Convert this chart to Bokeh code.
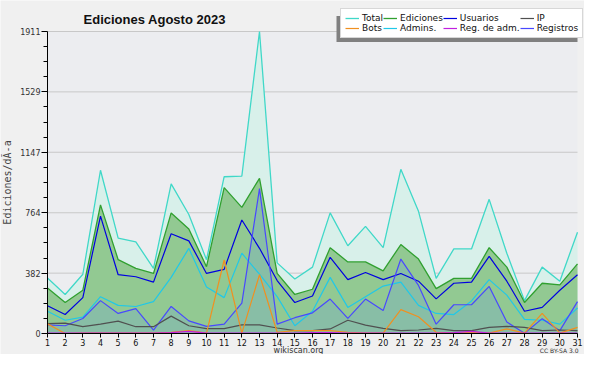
from bokeh.plotting import figure
from bokeh.models import (ColumnDataSource, FixedTicker, Legend, LegendItem, Label,
                          BoxAnnotation, Range1d)
from bokeh.embed import file_html
from bokeh.resources import INLINE

days = list(range(1, 32))
total = [351, 247, 375, 1033, 604, 580, 412, 947, 753, 467, 992, 996, 1911, 447, 345, 420,
         763, 555, 678, 543, 1039, 773, 349, 535, 535, 849, 508, 208, 420, 331, 641]
ediciones = [288, 196, 274, 814, 467, 412, 380, 763, 661, 423, 923, 798, 982, 380, 247, 280,
             543, 453, 453, 396, 563, 471, 284, 349, 349, 543, 420, 196, 318, 308, 441]
usuarios = [176, 120, 227, 743, 372, 359, 325, 631, 586, 380, 406, 718, 539, 335, 196, 237,
            482, 341, 386, 341, 380, 331, 219, 318, 325, 488, 331, 141, 165, 274, 372]
registros = [55, 49, 95, 208, 127, 157, 22, 171, 80, 45, 59, 192, 917, 59, 100, 131,
             218, 96, 218, 145, 471, 304, 59, 182, 182, 298, 73, 2, 94, 18, 202]
ip = [62, 66, 43, 59, 78, 43, 43, 110, 49, 31, 31, 55, 55, 35, 18, 18,
      29, 84, 53, 33, 18, 22, 33, 18, 18, 39, 45, 39, 18, 22, 18]
bots = [61, 0, 2, 2, 2, 2, 2, 8, 18, 2, 465, 2, 372, 8, 18, 18,
        18, 8, 2, 2, 151, 106, 8, 2, 8, 2, 29, 2, 127, 2, 39]
admins = [141, 84, 104, 233, 178, 171, 202, 355, 539, 294, 227, 508, 375, 233, 49, 141,
          355, 165, 233, 300, 325, 178, 127, 120, 206, 341, 243, 90, 84, 59, 161]
reg_adm = [3, 2, 2, 2, 2, 2, 2, 5, 14, 2, 2, 2, 2, 2, 2, 6,
           6, 2, 2, 2, 2, 2, 2, 6, 14, 2, 2, 2, 2, 2, 2]

y_ticks = [0, 382, 764, 1147, 1529, 1911]
legend_labels = ["Total", "Ediciones", "Usuarios", "IP",
                 "Bots", "Admins.", "Reg. de adm.", "Registros"]

# ---- layout (pixels) ----
W, H = 584, 354
px_left, px_right = 47, 577      # screen x of first / last day
px_top, px_bottom = 31, 333      # screen y (from top) of y max / 0
xs = (px_right - px_left) / (days[-1] - days[0])
ys = (px_bottom - px_top) / (y_ticks[-1] - y_ticks[0])
x_range = Range1d(days[0] - px_left / xs, days[-1] + (W - px_right) / xs)
y_range = Range1d(y_ticks[0] - (H - px_bottom) / ys, y_ticks[-1] + px_top / ys)

src = ColumnDataSource(dict(day=days, total=total, ediciones=ediciones, usuarios=usuarios,
                            registros=registros, ip=ip, bots=bots, admins=admins,
                            reg_adm=reg_adm))

p = figure(width=W, height=H, output_backend="svg", toolbar_location=None,
           x_range=x_range, y_range=y_range, min_border=0)
p.background_fill_color = "#f0f0f0"
p.border_fill_color = "#f0f0f0"
p.outline_line_color = None
p.xgrid.grid_line_color = None
p.ygrid.grid_line_color = None

# plot area background
p.add_layout(BoxAnnotation(left=days[0], right=days[-1], bottom=y_ticks[0], top=y_ticks[-1],
                           fill_color="#ecedf0", fill_alpha=1, line_color=None,
                           level="underlay"))
# horizontal grid lines
p.segment(x0=[days[0]] * (len(y_ticks) - 1), x1=[days[-1]] * (len(y_ticks) - 1),
          y0=y_ticks[1:], y1=y_ticks[1:], line_color="#c8c8c8", line_width=1)

# areas
p.varea(x="day", y1=0, y2="total", source=src, fill_color="#d8f0ea")
p.varea(x="day", y1=0, y2="ediciones", source=src, fill_color="#92c992")
p.varea(x="day", y1=0, y2="registros", source=src, fill_color="#88bea6")

# lines
r_total = p.line("day", "total", source=src, line_color="#40d8c8", line_width=1.3)
r_edic = p.line("day", "ediciones", source=src, line_color="#30a030", line_width=1.3)
r_usu = p.line("day", "usuarios", source=src, line_color="#0000e0", line_width=1.2)
r_adm = p.line("day", "admins", source=src, line_color="#20c8e8", line_width=1.2)
r_reg = p.line("day", "registros", source=src, line_color="#4848ff", line_width=1.2)
r_ip = p.line("day", "ip", source=src, line_color="#505050", line_width=1.2)
r_bots = p.line("day", "bots", source=src, line_color="#f09020", line_width=1.2)
r_radm = p.line("day", "reg_adm", source=src, line_color="#c020e0", line_width=1.2)

# axes
minor = []
for a, b in zip(y_ticks[:-1], y_ticks[1:]):
    minor += [a + (b - a) * k / 4 for k in (1, 2, 3)]
p.yaxis.ticker = FixedTicker(ticks=y_ticks, minor_ticks=minor)
p.xaxis.ticker = FixedTicker(ticks=days)
p.xaxis.fixed_location = y_ticks[0]
p.yaxis.fixed_location = days[0]
p.xaxis.bounds = (days[0], days[-1])
p.yaxis.bounds = (y_ticks[0], y_ticks[-1])

for ax in (p.xaxis[0], p.yaxis[0]):
    ax.axis_line_color = "black"
    ax.major_tick_line_color = "black"
    ax.minor_tick_line_color = "black"
    ax.major_tick_in = 0
    ax.minor_tick_in = 0
    ax.major_label_text_font = "DejaVu Sans"
    ax.major_label_text_font_size = "8px"
    ax.major_label_standoff = 1
p.xaxis.major_tick_out = 4
p.xaxis.minor_tick_out = 0
p.yaxis.major_tick_out = 6
p.yaxis.minor_tick_out = 4
p.xaxis.major_label_text_color = "#111111"
p.yaxis.major_label_text_color = "#333333"
p.yaxis.axis_label = "Ediciones/dÃ-a"
p.yaxis.axis_label_text_font = "DejaVu Sans Mono"
p.yaxis.axis_label_text_font_size = "10px"
p.yaxis.axis_label_text_font_style = "normal"
p.yaxis.axis_label_standoff = 4

# title and footer texts (screen units, origin bottom-left of figure)
p.add_layout(Label(x=156, y=H - 18.5, x_units="screen", y_units="screen",
                   text="Ediciones  Agosto 2023", text_align="center",
                   text_baseline="alphabetic", text_font="Liberation Sans",
                   text_font_size="13px", text_font_style="bold", text_color="#111111"))
p.add_layout(Label(x=298, y=H - 349.5, x_units="screen", y_units="screen",
                   text="wikiscan.org", text_align="center", text_baseline="middle",
                   text_font="DejaVu Sans", text_font_size="8px", text_color="#333333"))
p.add_layout(Label(x=578, y=H - 350, x_units="screen", y_units="screen",
                   text="CC BY-SA 3.0", text_align="right", text_baseline="middle",
                   text_font="DejaVu Sans", text_font_size="6px", text_color="#333333"))

# legend with shadow
lx, lyb, lw, lh = 340, H - 37.5, 241, 26
p.add_layout(BoxAnnotation(left=lx - 4, right=lx + lw - 4, bottom=lyb - 4, top=lyb + lh - 4,
                           left_units="screen", right_units="screen",
                           bottom_units="screen", top_units="screen",
                           fill_color="#808080", fill_alpha=1, line_color=None))
rends = [r_total, r_edic, r_usu, r_ip, r_bots, r_adm, r_radm, r_reg]
items = [LegendItem(label=lab, renderers=[r]) for lab, r in zip(legend_labels, rends)]
legend = Legend(items=items, location=(lx, lyb), orientation="horizontal", ncols=4,
                glyph_width=14, glyph_height=10, label_height=10, label_standoff=3,
                padding=4, spacing=0, margin=0,
                label_text_font="DejaVu Sans", label_text_font_size="9px",
                label_text_color="#111111", label_text_baseline="middle",
                border_line_color="#b0b0b0", border_line_width=1,
                background_fill_color="white", background_fill_alpha=1)
p.add_layout(legend)

open("out.html", "w").write(file_html(p, INLINE))
